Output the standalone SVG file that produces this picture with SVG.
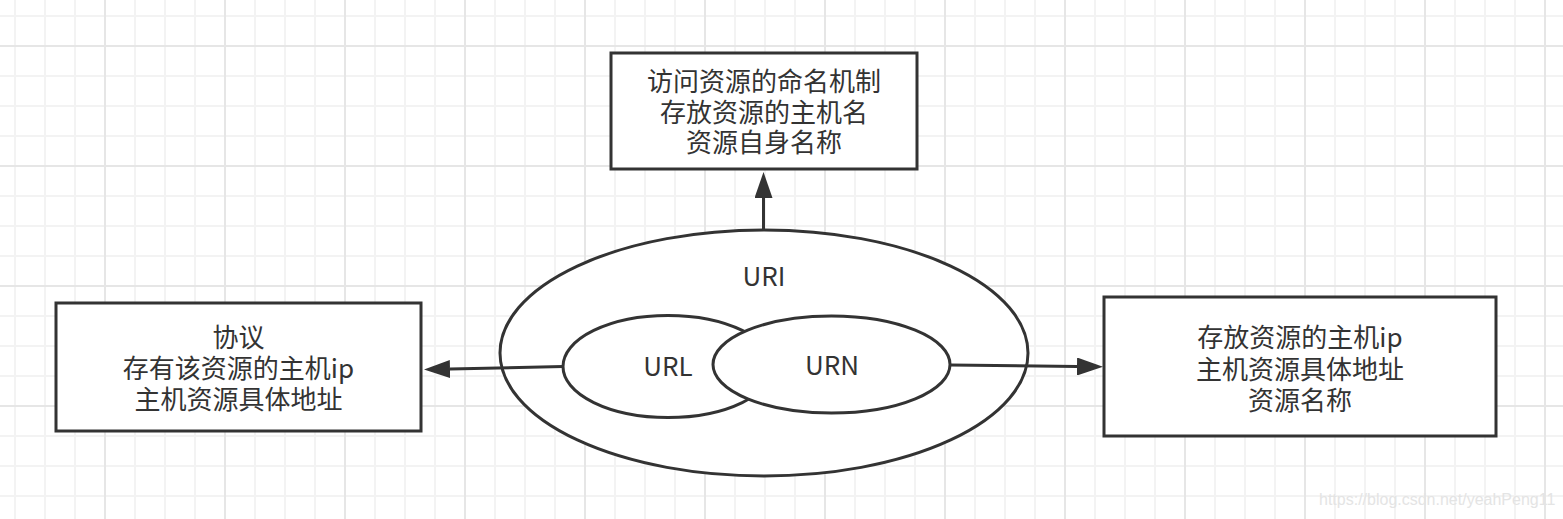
<svg xmlns="http://www.w3.org/2000/svg" width="1563" height="519" viewBox="0 0 1563 519">
  <style>
    .box { fill: #ffffff; stroke: #333333; stroke-width: 3; }
    .shape { fill: #ffffff; stroke: #333333; stroke-width: 3; }
    .lbl { font-family: "Noto Sans CJK SC", "Noto Sans", sans-serif; font-size: 26px; fill: #333333; text-anchor: middle; }
    .conn { fill: none; stroke: #333333; stroke-width: 3; }
    .wm { font-family: "Liberation Sans", Arial, sans-serif; font-size: 16px; fill: #e4e4e4; }
  </style>
  <defs>
    <pattern id="grid" x="-15" y="-74" width="120" height="120" patternUnits="userSpaceOnUse">
      <rect x="29" y="0" width="2" height="120" fill="#f3f3f3"/>
      <rect x="59" y="0" width="2" height="120" fill="#f3f3f3"/>
      <rect x="89" y="0" width="2" height="120" fill="#f3f3f3"/>
      <rect x="0" y="29" width="120" height="2" fill="#f3f3f3"/>
      <rect x="0" y="59" width="120" height="2" fill="#f3f3f3"/>
      <rect x="0" y="89" width="120" height="2" fill="#f3f3f3"/>
      <rect x="0" y="0" width="1" height="120" fill="#e6e6e6"/>
      <rect x="119" y="0" width="1" height="120" fill="#e6e6e6"/>
      <rect x="0" y="0" width="120" height="1" fill="#e6e6e6"/>
      <rect x="0" y="119" width="120" height="1" fill="#e6e6e6"/>
    </pattern>
    <marker id="arrow" viewBox="0 0 26 18" refX="0" refY="9" markerWidth="26" markerHeight="18" markerUnits="userSpaceOnUse" orient="auto">
      <path d="M0,0 L26,9 L0,18 Z" fill="#333333"/>
    </marker>
  </defs>
  <rect x="0" y="0" width="1563" height="519" fill="#ffffff"/>
  <rect x="0" y="0" width="1563" height="519" fill="url(#grid)"/>

  <g id="uri">
    <ellipse class="shape" cx="764" cy="353" rx="264" ry="123"/>
    <text class="lbl" x="764" y="285.5">URI</text>
  </g>
  <g id="url">
    <ellipse class="shape" cx="668" cy="366.5" rx="105" ry="51"/>
    <text class="lbl" x="668" y="376">URL</text>
  </g>
  <g id="urn">
    <ellipse class="shape" cx="831.5" cy="364.5" rx="118.5" ry="48.5"/>
    <text class="lbl" x="832" y="375">URN</text>
  </g>

  <g id="top-box">
    <rect class="box" x="611" y="53" width="306" height="116"/>
    <text class="lbl" x="764" y="91">访问资源的命名机制</text>
    <text class="lbl" x="764" y="121.5">存放资源的主机名</text>
    <text class="lbl" x="764" y="152">资源自身名称</text>
  </g>

  <g id="left-box">
    <rect class="box" x="56" y="303" width="365" height="128"/>
    <text class="lbl" x="238.5" y="347">协议</text>
    <text class="lbl" x="238.5" y="378">存有该资源的主机ip</text>
    <text class="lbl" x="238.5" y="409">主机资源具体地址</text>
  </g>

  <g id="right-box">
    <rect class="box" x="1104" y="297" width="392" height="139"/>
    <text class="lbl" x="1300" y="347">存放资源的主机ip</text>
    <text class="lbl" x="1300" y="378.5">主机资源具体地址</text>
    <text class="lbl" x="1300" y="410">资源名称</text>
  </g>

  <g id="connectors">
    <path class="conn" d="M763.5,231 L763.5,198" marker-end="url(#arrow)"/>
    <path class="conn" d="M563,366.5 L450,369" marker-end="url(#arrow)"/>
    <path class="conn" d="M950,365 L1077,366.5" marker-end="url(#arrow)"/>
  </g>

  <text class="wm" x="1319" y="505">https://blog.csdn.net/yeahPeng11</text>
</svg>
